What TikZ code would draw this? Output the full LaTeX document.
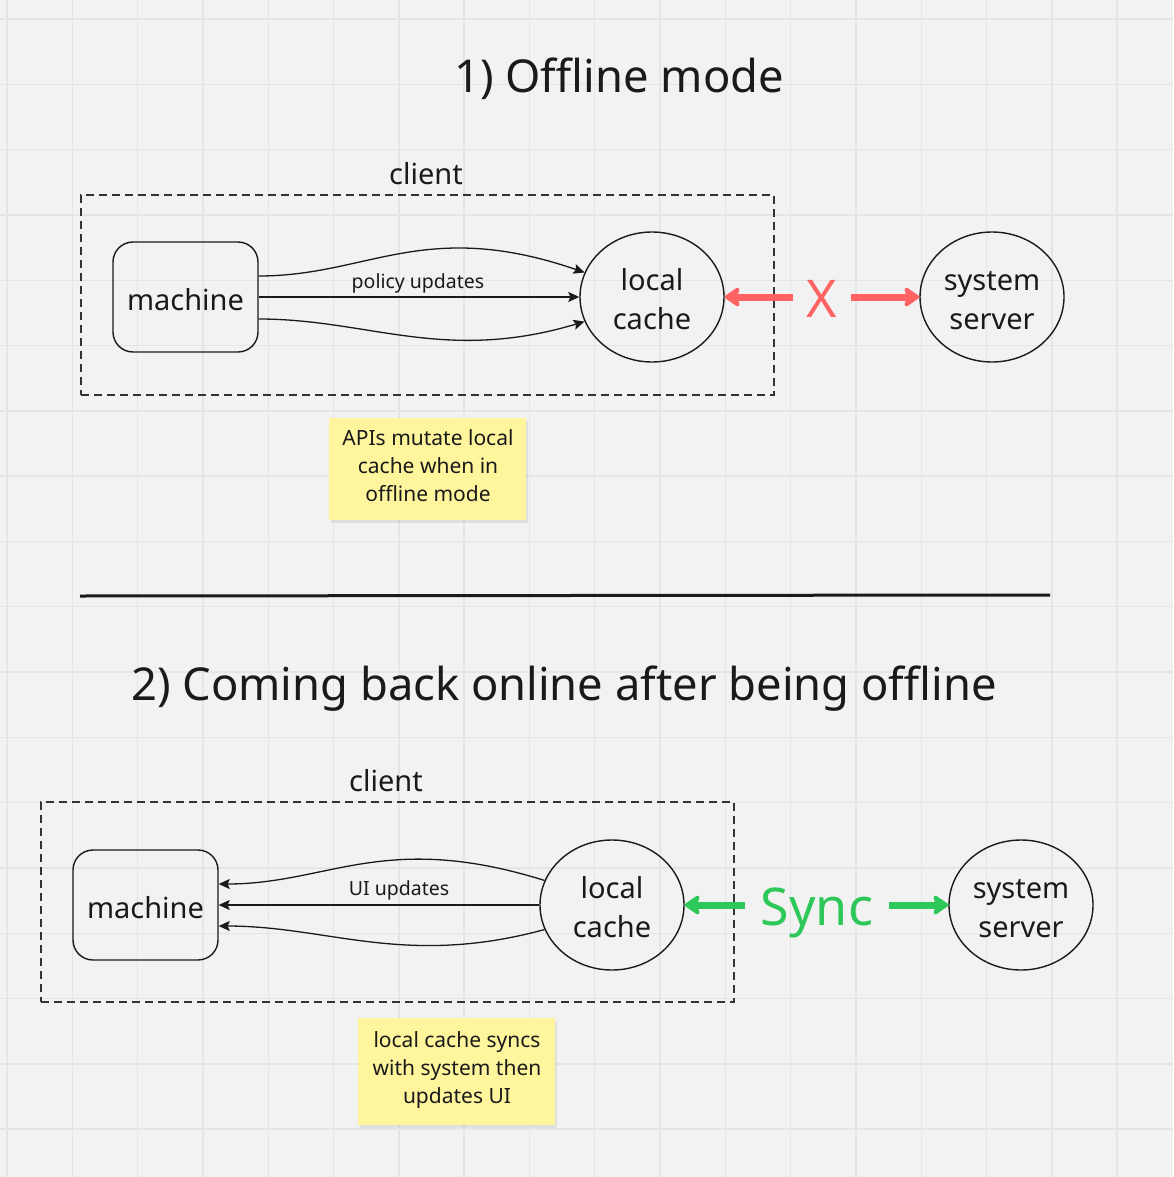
\documentclass[tikz,border=0pt]{standalone}
\usepackage{fontspec}
\setmainfont{Noto Sans}
\usetikzlibrary{arrows.meta,shapes.geometric}

\definecolor{bg}{RGB}{242,242,242}
\definecolor{gridc}{RGB}{229,229,229}
\definecolor{ink}{RGB}{26,26,26}
\definecolor{dashc}{RGB}{51,51,51}
\definecolor{alertred}{RGB}{255,99,99}
\definecolor{syncgreen}{RGB}{46,199,89}
\definecolor{sticky}{RGB}{255,245,157}

% node text nudged down a little without changing the node's size
\newcommand{\lowered}[2][2.5pt]{\raisebox{-#1}[\height][\depth]{#2}}
\newcommand{\twolines}[2]{\lowered[5.5pt]{\begin{tabular}{@{}c@{}}#1\\#2\end{tabular}}}

\begin{document}
\begin{tikzpicture}[x=1pt,y=-1pt,
  every node/.style={text=ink},
  heading/.style={font=\fontsize{45.3}{55}\selectfont},
  grouplabel/.style={font=\fontsize{29}{39}\selectfont},
  edgelabel/.style={font=\fontsize{19.5}{24}\selectfont},
  machinebox/.style={draw=ink, line width=1.4pt, rounded corners=20pt,
    minimum width=145pt, minimum height=110pt, inner sep=0pt,
    font=\fontsize{29}{39}\selectfont},
  store/.style={draw=ink, line width=1.4pt, ellipse, minimum width=144pt,
    minimum height=130pt, inner sep=0pt,
    font=\fontsize{29}{39}\selectfont},
  group/.style={draw=dashc, line width=1.5pt, dash pattern=on 8pt off 5pt,
    minimum width=693pt, minimum height=200pt, inner sep=0pt},
  flow/.style={draw=ink, line width=1.3pt,
    -{Stealth[length=11pt,width=10pt,inset=2pt]}},
  note/.style={fill=sticky, minimum width=197pt, inner sep=0pt},
  noteshadow/.style={fill=black, opacity=0.07, minimum width=197pt, inner sep=0pt},
  notetext/.style={align=center, font=\fontsize{21}{28}\selectfont},
  bigword/.style={font=\fontsize{52}{60}\selectfont, outer sep=0pt},
  blocked/.style={draw=alertred, line width=7pt,
    -{Stealth[round,length=17pt,width=23pt,inset=3pt]}},
  synced/.style={draw=syncgreen, line width=7pt,
    -{Stealth[round,length=17pt,width=23pt,inset=3pt]}},
]

% canvas and grid
\fill[bg] (0,0) rectangle (1173,1177);
\useasboundingbox (0,0) rectangle (1173,1177);
\foreach \i in {0,...,17} {
  \draw[gridc, line width=1.4pt] (7+65.3*\i,0) -- (7+65.3*\i,1177);
  \draw[gridc, line width=1.4pt] (0,19+65.3*\i) -- (1173,19+65.3*\i);
}

% ---------- 1) offline mode ----------
\node[heading] (t1) at (619,79) {1) Offline mode};
\node[grouplabel] (cl1) at (426,174) {client};
\node[group] (box1) at (427.5,295) {};
\node[machinebox] (m1) at (185.5,297) {\lowered{machine}};
\node[store] (lc1) at (652,297) {\twolines{local}{cache}};
\node[store] (ss1) at (992,297) {\twolines{system}{server}};

\draw[flow] ([yshift=21pt]m1.east) .. controls +(110,0) and +(-160,-55) .. (lc1.160);
\draw[flow] (m1.east) -- (lc1.west);
\draw[flow] ([yshift=-22pt]m1.east) .. controls +(110,0) and +(-140,42) .. (lc1.200);
\node[edgelabel] (pl) at (418,283) {policy updates};

\node[bigword, text=alertred, inner xsep=14pt] (x1) at (822,299) {X};
\draw[blocked] (x1.west |- lc1.center) -- (lc1.east);
\draw[blocked] (x1.east |- ss1.center) -- (ss1.west);

\node[noteshadow, minimum height=102pt] at (429,471.5) {};
\node[note, minimum height=102pt] (n1) at (427.5,469) {};
\node[notetext] (n1t) at (428,466) {APIs mutate local\\cache when in\\offline mode};

% separator
\coordinate (sepL) at (80,596);
\coordinate (sepR) at (1050,595);
\draw[ink, line width=3pt] (sepL) -- (sepR);

% ---------- 2) back online ----------
\node[heading] (t2) at (564,689) {2) Coming back online after being offline};
\node[grouplabel] (cl2) at (386,781) {client};
\node[group] (box2) at (387.5,902) {};
\node[machinebox] (m2) at (145.5,905) {\lowered{machine}};
\node[store] (lc2) at (612,905) {\twolines{local}{cache}};
\node[store] (ss2) at (1021,905) {\twolines{system}{server}};

\draw[flow] (lc2.160) .. controls +(-160,-50) and +(110,0) .. ([yshift=21pt]m2.east);
\draw[flow] (lc2.west) -- (m2.east);
\draw[flow] (lc2.200) .. controls +(-140,38) and +(110,0) .. ([yshift=-21pt]m2.east);
\node[edgelabel] (ul) at (399,890) {UI updates};

\node[bigword, text=syncgreen, inner xsep=15.5pt, anchor=base] (sy) at (817,925) {Sync};
\draw[synced] (sy.west |- lc2.center) -- (lc2.east);
\draw[synced] (sy.east |- ss2.center) -- (ss2.west);

\node[noteshadow, minimum height=107pt] at (458,1074) {};
\node[note, minimum height=107pt] (n2) at (456.5,1071.5) {};
\node[notetext] (n2t) at (457,1070) {local cache syncs\\with system then\\updates UI};

\end{tikzpicture}
\end{document}
